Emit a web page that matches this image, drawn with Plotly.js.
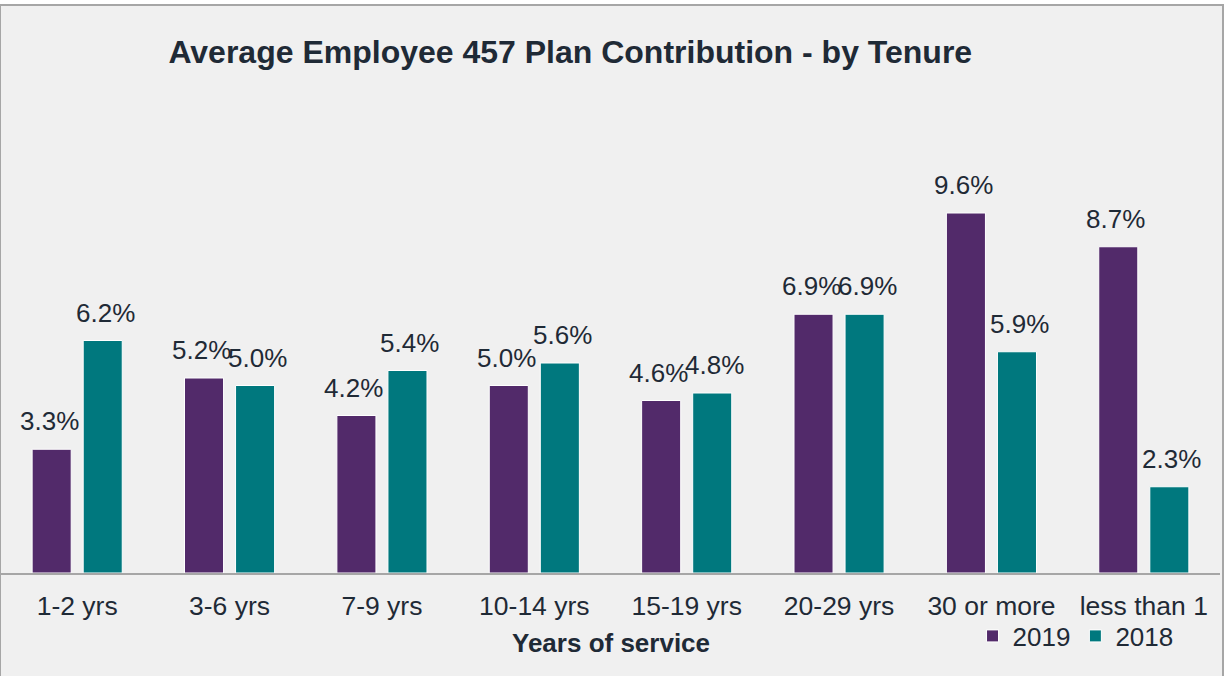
<!DOCTYPE html>
<html>
<head>
<meta charset="utf-8">
<script src="https://cdn.plot.ly/plotly-3.0.1.min.js"></script>
<style>
  body { margin: 0; background: #ffffff; }
  #chart {
    position: absolute; left: 0; top: 4px;
    width: 1221px; height: 672px;
    border: solid #a6a6a6; border-width: 2px 2px 0 1px;
  }
</style>
</head>
<body>
<div id="chart"></div>
<script>
const categories = ['1-2 yrs', '3-6 yrs', '7-9 yrs', '10-14 yrs', '15-19 yrs', '20-29 yrs', '30 or more', 'less than 1'];
const values2019 = [3.3, 5.2, 4.2, 5.0, 4.6, 6.9, 9.6, 8.7];
const values2018 = [6.2, 5.0, 5.4, 5.6, 4.8, 6.9, 5.9, 2.3];

const purple = '#522a6a';
const teal = '#00787e';
const textColor = '#1f2a36';
const font = 'Liberation Sans, Arial, sans-serif';

const data = [
  {
    type: 'bar', name: '2019', x: categories, y: values2019,
    marker: { color: purple, line: { color: '#ffffff', width: 1 } },
    hoverinfo: 'skip'
  },
  {
    type: 'bar', name: '2018', x: categories, y: values2018,
    marker: { color: teal, line: { color: '#ffffff', width: 1 } },
    hoverinfo: 'skip'
  }
];

// value labels sit a bit above each bar, roughly centred on it
const annotations = [];
categories.forEach((c, i) => {
  annotations.push({ x: c, y: values2019[i], xref: 'x', yref: 'y', text: values2019[i].toFixed(1) + '%',
    showarrow: false, xshift: -28, yshift: 28, font: { size: 26, color: textColor } });
  annotations.push({ x: c, y: values2018[i], xref: 'x', yref: 'y', text: values2018[i].toFixed(1) + '%',
    showarrow: false, xshift: 28, yshift: 28, font: { size: 26, color: textColor } });
});

// axis title as a plain annotation so it stays below the tick labels
annotations.push({
  text: '<b>Years of service</b>', showarrow: false,
  xref: 'paper', x: 0.5, xanchor: 'center',
  yref: 'paper', y: -70 / 450, yanchor: 'middle',
  font: { size: 26, color: textColor }
});

const layout = {
  width: 1221, height: 672,
  margin: { l: 0, r: 2, t: 117, b: 105 },
  paper_bgcolor: '#f0f0f0',
  plot_bgcolor: '#f0f0f0',
  font: { family: font, size: 26, color: textColor },
  title: {
    text: '<b>Average Employee 457 Plan Contribution - by Tenure</b>',
    font: { size: 32, color: textColor },
    xref: 'paper', x: 0.467, xanchor: 'center',
    yref: 'container', y: 0.9315, yanchor: 'middle'
  },
  barmode: 'group',
  bargap: 0.33,
  bargroupgap: 0.235,
  xaxis: {
    showline: true, linecolor: '#a6a6a6', linewidth: 2,
    ticks: 'outside', ticklen: 8, tickcolor: 'rgba(0,0,0,0)', showgrid: false,
    tickfont: { size: 26.5, color: textColor }
  },
  yaxis: {
    range: [0, 12], visible: false, showgrid: false, zeroline: false
  },
  showlegend: true,
  legend: {
    orientation: 'h', traceorder: 'normal',
    x: 0.797, xanchor: 'left',
    yref: 'container', y: 1 - 630 / 672, yanchor: 'middle',
    bgcolor: 'rgba(0,0,0,0)',
    font: { size: 26, color: textColor }
  },
  annotations: annotations
};

Plotly.newPlot('chart', data, layout, { displayModeBar: false, staticPlot: true });
</script>
</body>
</html>
